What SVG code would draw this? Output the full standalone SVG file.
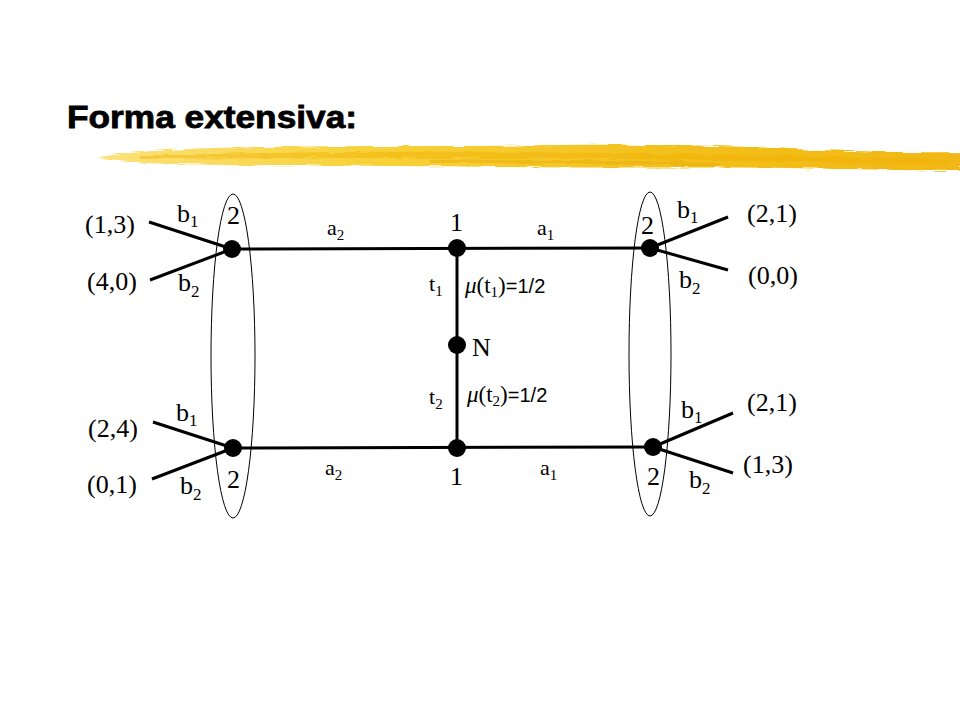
<svg xmlns="http://www.w3.org/2000/svg" width="960" height="720" viewBox="0 0 960 720">
<style>
.e{fill:none;stroke:#000;stroke-width:3}
.o{fill:none;stroke:#000;stroke-width:1}
.n{fill:#000}
text{font-family:"Liberation Serif","Times New Roman",serif;font-size:26px;fill:#000}
.s{font-size:17px}
.m{font-size:22px}
.ms{font-size:15px}
.mu{font-size:23px}
.h{font-family:"Liberation Sans",Arial,sans-serif;font-size:20px}
.t{font-family:"Liberation Sans",Arial,sans-serif;font-weight:bold;font-size:31px;stroke:#000;stroke-width:0.8}
</style>
<defs>
<linearGradient id="gy" x1="0" y1="0" x2="1" y2="0">
<stop offset="0" stop-color="#FBE27A"/>
<stop offset="0.3" stop-color="#F8D23A"/>
<stop offset="0.7" stop-color="#F3BF1A"/>
<stop offset="1" stop-color="#F1B712"/>
</linearGradient>
<filter id="rough" x="-5%" y="-50%" width="110%" height="200%">
<feTurbulence type="fractalNoise" baseFrequency="0.04 0.6" numOctaves="2" seed="3"/>
<feDisplacementMap in="SourceGraphic" scale="5"/>
</filter>
</defs>
<rect width="960" height="720" fill="#fff"/>
<text class="t" x="67" y="128" textLength="290" lengthAdjust="spacingAndGlyphs">Forma extensiva:</text>
<g id="brush" filter="url(#rough)">
<path d="M100,157 C140,150 200,148 260,147 C360,145 460,147 560,145 C650,144 740,146 790,149 C850,151 910,153 960,152 L960,171 C900,170 850,169 790,168 C700,167 600,168 500,167 C400,166 300,166 220,165 C170,164 130,163 100,159 Z" fill="url(#gy)"/>
<path d="M140,156 C250,152 400,151 500,152 C650,153 800,156 950,160 L950,164 C800,162 650,159 500,158 C400,158 250,158 140,159 Z" fill="#F0B000" opacity="0.45"/>
<path d="M430,160 C520,159 620,160 720,163 L720,166 C620,164 520,163 430,163 Z" fill="#E3A400" opacity="0.4"/>
</g>
<g id="infosets">
<ellipse class="o" cx="233" cy="356" rx="22" ry="162"/>
<ellipse class="o" cx="650" cy="354" rx="21" ry="162"/>
</g>
<g id="connectors">
<line class="e" x1="232" y1="249" x2="650" y2="248"/>
<line class="e" x1="233" y1="448" x2="653" y2="447"/>
<line class="e" x1="457" y1="248" x2="457" y2="448"/>
<line class="e" x1="232" y1="249" x2="149" y2="222"/>
<line class="e" x1="232" y1="249" x2="150" y2="280"/>
<line class="e" x1="650" y1="248" x2="728" y2="217"/>
<line class="e" x1="650" y1="248" x2="728" y2="270"/>
<line class="e" x1="233" y1="448" x2="153" y2="422"/>
<line class="e" x1="233" y1="448" x2="152" y2="479"/>
<line class="e" x1="653" y1="447" x2="733" y2="413"/>
<line class="e" x1="653" y1="447" x2="733" y2="473"/>
</g>
<g id="node-N"><circle class="n" cx="457" cy="345" r="9"/><text x="472" y="356">N</text></g>
<g id="node-1top"><circle class="n" cx="457" cy="248" r="9"/><text x="450" y="231">1</text></g>
<g id="node-1bot"><circle class="n" cx="457" cy="448" r="9"/><text x="450" y="485">1</text></g>
<g id="node-2tl"><circle class="n" cx="232" cy="249" r="9"/><text x="227" y="224">2</text></g>
<g id="node-2tr"><circle class="n" cx="650" cy="248" r="9"/><text x="641" y="234">2</text></g>
<g id="node-2bl"><circle class="n" cx="233" cy="448" r="9"/><text x="227" y="488">2</text></g>
<g id="node-2br"><circle class="n" cx="653" cy="447" r="9"/><text x="647" y="485">2</text></g>
<g id="labels">
<text x="85" y="233">(1,3)</text>
<text x="87" y="290">(4,0)</text>
<text x="747" y="222">(2,1)</text>
<text x="748" y="284">(0,0)</text>
<text x="88" y="437">(2,4)</text>
<text x="87" y="493">(0,1)</text>
<text x="747" y="411">(2,1)</text>
<text x="743" y="473">(1,3)</text>
<text x="177" y="222">b<tspan class="s" dy="5">1</tspan></text>
<text x="178" y="291">b<tspan class="s" dy="6">2</tspan></text>
<text x="677" y="218">b<tspan class="s" dy="5">1</tspan></text>
<text x="679" y="288">b<tspan class="s" dy="6">2</tspan></text>
<text x="176" y="421">b<tspan class="s" dy="5">1</tspan></text>
<text x="180" y="494">b<tspan class="s" dy="6">2</tspan></text>
<text x="681" y="418">b<tspan class="s" dy="5">1</tspan></text>
<text x="689" y="488">b<tspan class="s" dy="6">2</tspan></text>
<text class="m" x="327" y="235">a<tspan class="ms" dy="5">2</tspan></text>
<text class="m" x="537" y="235">a<tspan class="ms" dy="5">1</tspan></text>
<text class="m" x="325" y="475">a<tspan class="ms" dy="5">2</tspan></text>
<text class="m" x="540" y="475">a<tspan class="ms" dy="5">1</tspan></text>
<text class="m" x="429" y="291">t<tspan class="ms" dy="5">1</tspan></text>
<text class="m" x="429" y="404">t<tspan class="ms" dy="5">2</tspan></text>
<text class="mu" x="465" y="293"><tspan font-style="italic">μ</tspan>(t<tspan class="ms" dy="4">1</tspan><tspan dy="-4">)</tspan><tspan class="h">=1/2</tspan></text>
<text class="mu" x="467" y="402"><tspan font-style="italic">μ</tspan>(t<tspan class="ms" dy="4">2</tspan><tspan dy="-4">)</tspan><tspan class="h">=1/2</tspan></text>
</g>
</svg>
